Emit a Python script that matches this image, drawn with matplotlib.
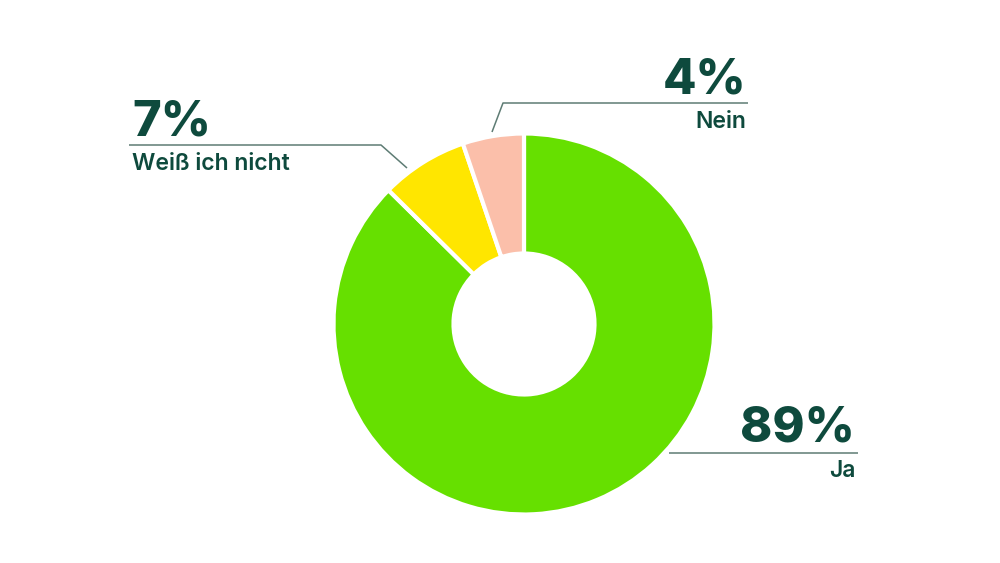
import matplotlib
matplotlib.use("Agg")
import matplotlib.pyplot as plt

categorias = ["Ja", "Weiß ich nicht", "Nein"]
valores = [87.4, 7.4, 5.2]
etiquetas_pct = ["89%", "7%", "4%"]
colores = ["#66E000", "#FFE600", "#FBBFAA"]

OSCURO = "#0E4A3D"
LINEA = "#5E7C74"
H = 563

fig = plt.figure(figsize=(10, 5.63), dpi=100)
ax = fig.add_axes([0, 0, 1, 1])

ax.pie(valores, colors=colores, startangle=90, counterclock=False,
       center=(524, H - 324), radius=190.5,
       wedgeprops=dict(width=120, edgecolor="white", linewidth=3))
ax.set_xlim(0, 1000)
ax.set_ylim(0, H)
ax.set_aspect("equal")
ax.axis("off")

fuente = ["Inter", "DejaVu Sans"]


def etiqueta(pct, nombre, x_txt, ha, y_pct, y_nom, linea_x, linea_y):
    ax.text(x_txt, H - y_pct, pct, ha=ha, va="baseline", fontsize=35,
            fontweight="heavy", color=OSCURO, family=fuente)
    ax.text(x_txt, H - y_nom, nombre, ha=ha, va="baseline", fontsize=16.5,
            fontweight="semibold", color=OSCURO, family=fuente)
    ax.plot(linea_x, [H - y for y in linea_y], color=LINEA, lw=1.1,
            solid_capstyle="butt")


# --- Ja ---
etiqueta(etiquetas_pct[0], categorias[0], 855, "right", 441, 477,
         [669, 858], [453, 453])
# --- Weiss ich nicht ---
etiqueta(etiquetas_pct[1], categorias[1], 132, "left", 135, 170,
         [129, 381, 407], [145, 145, 168])
# --- Nein ---
etiqueta(etiquetas_pct[2], categorias[2], 746, "right", 93, 128,
         [492, 503, 748], [132, 103, 103])

fig.savefig("out.png", dpi=100, facecolor="white")
